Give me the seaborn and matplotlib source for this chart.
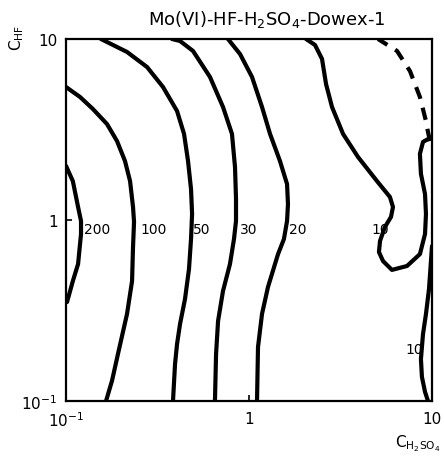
import matplotlib
matplotlib.use("Agg")
import matplotlib.pyplot as plt
import matplotlib.ticker as mticker
import seaborn as sns
import pandas as pd

# --- data (log-log axes) ---
x200 = [0.100, 0.109, 0.1164, 0.1208, 0.1208, 0.1164, 0.109, 0.1013]
y200 = [1.99, 1.64, 1.18, 0.987, 0.837, 0.571, 0.460, 0.352]

x100 = [0.100, 0.1194, 0.1404, 0.1675, 0.190, 0.210, 0.2239, 0.2324, 0.2354, 0.2324, 0.2296, 0.2155, 0.1923, 0.1784, 0.1655]
y100 = [5.43, 4.78, 4.10, 3.39, 2.73, 2.12, 1.64, 1.18, 0.975, 0.709, 0.460, 0.3027, 0.1818, 0.1294, 0.100]

x50 = [0.1552, 0.2155, 0.2773, 0.3389, 0.4044, 0.4416, 0.4643, 0.4822, 0.4886, 0.4822, 0.4700, 0.4470, 0.4199, 0.4044, 0.3943, 0.3843]
y50 = [10, 8.48, 7.00, 5.43, 4.00, 2.99, 2.12, 1.48, 1.08, 0.785, 0.536, 0.366, 0.2663, 0.2064, 0.160, 0.100]

x30 = [0.3797, 0.4199, 0.4943, 0.6120, 0.7211, 0.8072, 0.8386, 0.8492, 0.8492, 0.8279, 0.7870, 0.7211, 0.6776, 0.6607, 0.6516]
y30 = [10, 9.75, 8.59, 6.17, 4.21, 2.99, 1.96, 1.31, 0.987, 0.785, 0.571, 0.4056, 0.2767, 0.1818, 0.100]

x20 = [0.7674, 0.8933, 1.0385, 1.178, 1.303, 1.476, 1.614, 1.633, 1.614, 1.552, 1.441, 1.270, 1.178, 1.120, 1.106]
y20 = [10, 8.26, 6.17, 4.21, 2.99, 2.12, 1.58, 1.225, 0.987, 0.785, 0.648, 0.4266, 0.3027, 0.1986, 0.100]

x10a = [2.049, 2.294, 2.506, 2.636, 2.842, 3.265, 3.941, 5.006, 5.89, 6.12, 5.97, 5.53, 5.20, 5.13, 5.40,
        6.04, 7.30, 8.59, 9.16, 9.27, 9.16, 8.70, 8.59, 8.93, 9.51]
y10a = [10, 9.27, 7.76, 5.64, 4.21, 2.99, 2.23, 1.64, 1.34, 1.18, 1.04, 0.915, 0.766, 0.665, 0.593,
        0.530, 0.557, 0.648, 0.837, 1.08, 1.39, 1.80, 2.32, 2.70, 2.80]

x10_dash = [9.75, 9.51, 9.27, 8.59, 7.58, 6.44, 5.07]
y10_dash = [2.73, 3.06, 3.52, 4.78, 6.65, 8.59, 10]

x10b = [10, 9.87, 9.63, 9.27, 8.93, 8.70, 8.81, 9.16, 9.51]
y10b = [0.718, 0.593, 0.416, 0.3027, 0.2344, 0.1706, 0.1358, 0.1122, 0.100]

labels = ["200", "100", "50", "30", "20", "10", "10"]
label_x = [0.1254, 0.2538, 0.4943, 0.8933, 1.654, 4.64, 7.12]
label_y = [0.892, 0.892, 0.892, 0.892, 0.892, 0.892, 0.1937]

xticks = [0.1, 1, 10]
xticklabels = [r"$\mathregular{10^{-1}}$", "1", "10"]
yticks = [0.1, 1, 10]
yticklabels = [r"$\mathregular{10^{-1}}$", "1", "10"]

sns.set_theme(style="white")
plt.rcParams["font.family"] = ["DejaVu Sans"]

fig = plt.figure(figsize=(4.44, 4.60), dpi=100)
ax = fig.add_axes([66 / 444, 1 - 402 / 460, 366 / 444, 362 / 460])
ax.set_xscale("log")
ax.set_yscale("log")

solid = [(x200, y200), (x100, y100), (x50, y50), (x30, y30), (x20, y20), (x10a, y10a), (x10b, y10b)]
for xs, ys in solid:
    sns.lineplot(x=xs, y=ys, sort=False, estimator=None, color="black", lw=3.0, ax=ax,
                 solid_capstyle="round", solid_joinstyle="round")
sns.lineplot(x=x10_dash, y=y10_dash, sort=False, estimator=None, color="black", lw=3.0, ax=ax)
ax.lines[-1].set_dashes([3.0, 2.2])

for t, lx, ly in zip(labels, label_x, label_y):
    ax.text(lx, ly, t, ha="left", va="center", fontsize=10, color="black")

ax.set_xlim(0.1, 10)
ax.set_ylim(0.1, 10)
ax.set_xticks(xticks)
ax.set_xticklabels(xticklabels, fontsize=11)
ax.set_yticks(yticks)
ax.set_yticklabels(yticklabels, fontsize=11)
ax.xaxis.set_minor_locator(mticker.NullLocator())
ax.yaxis.set_minor_locator(mticker.NullLocator())
ax.tick_params(axis="both", which="major", direction="in", length=4, width=1.2,
               color="black", pad=6, labelcolor="black")
ax.tick_params(axis="x", pad=7, bottom=True)
ax.tick_params(axis="y", left=True)
for s in ax.spines.values():
    s.set_color("black")
    s.set_linewidth(1.6)
ax.set_xlabel("")
ax.set_ylabel("")

fig.text(267 / 444, 1 - 19 / 460, r"Mo(VI)-HF-H$_\mathregular{2}$SO$_\mathregular{4}$-Dowex-1",
         ha="center", va="center", fontsize=13, color="black")
fig.text(17 / 444, 1 - 38 / 460, r"$\mathregular{C_{HF}}$", rotation=90,
         ha="center", va="center", fontsize=11, color="black")
fig.text(418 / 444, 1 - 444 / 460, r"$\mathregular{C_{H_2SO_4}}$",
         ha="center", va="center", fontsize=11, color="black")

fig.savefig("out.png", dpi=100, facecolor="white")
